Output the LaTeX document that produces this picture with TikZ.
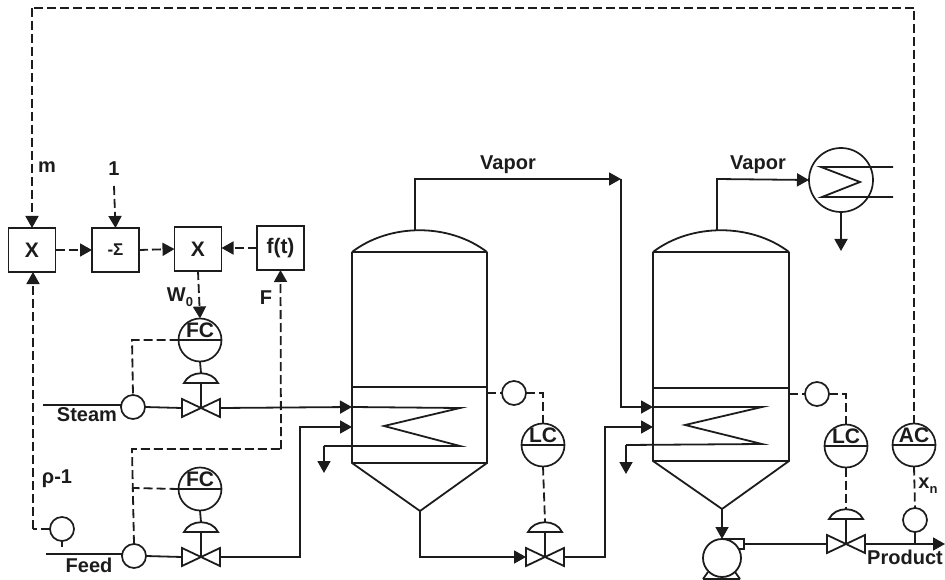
\documentclass[tikz,border=0pt]{standalone}
\usepackage{fontspec}
\setmainfont{Liberation Sans}
\usetikzlibrary{arrows.meta,calc}
\definecolor{ink}{HTML}{1C1C1C}
\tikzset{
  x=1pt,y=-1pt,
  every path/.style={line width=1.8pt,line join=miter},
  tip/.style={-{Triangle[length=12pt,width=13pt]}},
  sig/.style={dash pattern=on 9pt off 4pt},
  block/.style={draw=ink,line width=1.8pt,rectangle,minimum width=47pt,minimum height=44pt,inner sep=0pt,outer sep=0pt,font=\bfseries\fontsize{21}{22}\selectfont,text=ink},
  inst/.style={draw=ink,line width=1.7pt,circle,minimum size=43pt,inner sep=0pt,outer sep=0pt},
  sens/.style={draw=ink,line width=1.7pt,circle,minimum size=24pt,inner sep=0pt,outer sep=0pt},
  lab/.style={draw=none,inner sep=0pt,outer sep=0pt,text=ink,font=\bfseries\fontsize{20}{22}\selectfont},
  ilab/.style={lab,font=\bfseries\fontsize{21}{22}\selectfont},
  valvebox/.style={draw=none,rectangle,minimum width=38pt,minimum height=18pt,inner sep=0pt,outer sep=0pt},
}
\newcommand{\instr}[4]{%
  \node[inst] (#1) at (#2,#3) {};
  \draw[ink] (#1.west) -- (#1.east);
  \node[ilab] (#1t) at (#2,#3-10) {#4};
}
\newcommand{\valve}[3]{%
  \node[valvebox] (#1) at (#2,#3) {};
  \draw[ink] (#1.north west) -- (#1.south east) -- (#1.north east) -- (#1.south west) -- cycle;
  \coordinate (#1b) at (#2,#3-25);
  \coordinate (#1t) at (#2,#3-35);
  \draw[ink] (#2-17,#3-25) .. controls (#2-11,#3-38) and (#2+11,#3-38) .. (#2+17,#3-25) -- cycle;
  \draw[ink] (#1b) -- (#1.center);
}
\newcommand{\vessel}[9]{% name, left, right, domeTop, top, sheetTop, sheetBottom, apexX, apexY
  \draw[ink] (#2,#5) .. controls (#2+38,#4-6) and (#3-38,#4-6) .. (#3,#5);
  \draw[ink] (#2,#5) -- (#3,#5);
  \draw[ink] (#2,#5) -- (#2,#7) -- (#8,#9) -- (#3,#7) -- (#3,#5);
  \draw[ink] (#2,#6) -- (#3,#6);
  \draw[ink] (#2,#7) -- (#3,#7);
  \coordinate (#1apex) at (#8,#9);
}
\begin{document}
\begin{tikzpicture}[every path/.append style={color=ink}]
\useasboundingbox (0,0) rectangle (945,580);

% computing blocks
\node[block] (x1) at (32,250) {X};
\node[block] (sum) at (115.5,250) {\fontsize{17}{18}\selectfont -Σ\hspace{10pt}};
\node[block] (x2) at (198,249) {X};
\node[block] (ft) at (280.5,248) {f(t)};

% labels
\node[lab] (lm) at (47,167) {m};
\node[lab] (l1) at (114,169) {1};
\node[lab] (lw) at (180,297) {W\raisebox{-5pt}{\fontsize{13}{14}\selectfont 0}};
\node[lab] (lf) at (266,298) {F};
\node[lab] (lrho) at (57,479) {ρ-1};
\node[lab] (lsteam) at (87,415) {Steam};
\node[lab] (lfeed) at (89,565) {Feed};
\node[lab] (lvap1) at (508,165) {Vapor};
\node[lab] (lvap2) at (758,165) {Vapor};
\node[lab] (lx) at (928,486) {x\raisebox{-5pt}{\fontsize{13}{14}\selectfont n}};
\node[lab] (lprod) at (905,557) {Product};

% instruments
\instr{fca}{200}{340}{FC}
\instr{fcb}{200}{489}{FC}
\instr{lca}{543}{445}{LC}
\instr{lcb}{846}{446}{LC}
\instr{ac}{914}{445}{AC}
\node[sens] (steam) at (133,407) {};
\node[sens] (feed) at (134,556) {};
\node[sens] (rho) at (62,529) {};
\node[sens] (lva) at (514,393) {};
\node[sens] (lvb) at (817,394) {};
\node[sens] (xn) at (915,520) {};

% valves
\valve{va}{201}{408}
\valve{vb}{201}{557}
\valve{vc}{545}{557}
\valve{vd}{846}{544}

% vessels
\vessel{ea}{352}{487}{229}{252}{387}{463}{420}{511}
\vessel{eb}{653}{789}{229}{252}{388}{461}{722}{509}

% coils
\coordinate (ca1) at (352,407);
\coordinate (ca2) at (352,427);
\coordinate (cb1) at (653,407);
\coordinate (cb2) at (653,427);
\draw (ca1) -- (460,408) -- (384,426) -- (460,446) -- (324,446);
\draw[tip] (324,446) -- (324,473);
\draw (cb1) -- (762,407) -- (685,425) -- (762,444) -- (626,445);
\draw[tip] (626,445) -- (626,474);

% process lines
\coordinate (steamin) at (43,405);
\coordinate (feedin) at (46,554);
\draw (steamin) -- (steam.west |- steamin) -- (steam.west);
\draw (feedin) -- (feed.west |- feedin) -- (feed.west);
\draw (steam.east) -- (va.west);
\draw (feed.east) -- (vb.west);
\draw[tip] (va.east) -- (ca1);
\draw[tip] (vb.east) -- (300,557) -- (300,427) -- (ca2);
\draw[tip] (eaapex) -- (420,557) -- (vc.west);
\draw[tip] (vc.east) -- (605,557) -- (605,427) -- (cb2);
\coordinate (vaptopa) at (415,230);
\coordinate (vaptopb) at (717,230);
\draw[tip] (vaptopa) -- (415,179) -- (621,179);
\draw[tip] (621,179) -- (621,407) -- (cb1);

% condenser
\node[draw=ink,line width=1.7pt,circle,minimum size=64pt,inner sep=0pt,outer sep=0pt] (cond) at (841,180) {};
\draw[tip] (vaptopb) -- (717,179) -- (cond.west);
\draw (893,167) -- (821,167) -- (860,182) -- (822,197) -- (893,197);
\draw[tip] (cond.south) -- (841,251);

% pump
\node[draw=ink,line width=1.8pt,circle,minimum size=38pt,inner sep=0pt,outer sep=0pt] (pump) at (722,558) {};
\draw (722,539) -- (744,539) -- (744,549) -- (738,549);
\draw (703,579) -- (708,572) (740,579) -- (735,572) (703,579) -- (740,579);
\draw[tip] (ebapex) -- (pump.north);
\draw (744,544) -- (vd.west);
\coordinate (prodend) at (945,544);
\draw[tip] (vd.east) -- (prodend);

% signal lines
\draw[sig,tip] (32,8) -- (x1.north);
\draw[sig] (ac.north) -- (914,8) -- (32,8);
\draw[sig,tip] (114,186) -- (sum.north);
\draw[sig,tip] (x1.east) -- (sum.west);
\draw[sig,tip] (sum.east) -- (x2.west);
\draw[sig,tip] (ft.west) -- (ft.west -| x2.east);
\draw[sig,tip] (x2.south) -- (fca.north);
\draw[sig] (fca.west) -- (132,340) -- (steam.north);
\draw[sig] (feed.north) -- (132,449) -- (281,449);
\draw[sig,tip] (281,449) -- (ft.south);
\draw[sig] (fcb.west) -- (132,488);
\draw[sig] (rho.west) -- (33,529);
\draw[sig,tip] (33,529) -- (33,272);
\draw (rho.south) -- (62,547);
\draw (fca.south) -- (vat);
\draw (fcb.south) -- (vbt);
\draw[sig] (487,393) -- (lva.west);
\draw[sig] (lva.east) -- (543,393) -- (lca.north);
\draw[sig] (lca.south) -- (vct);
\draw[sig] (789,394) -- (lvb.west);
\draw[sig] (lvb.east) -- (846,394) -- (lcb.north);
\draw[sig] (lcb.south) -- (vdt);
\draw[sig] (ac.south) -- (xn.north);
\draw (xn.south) -- (915,544);
\end{tikzpicture}
\end{document}
